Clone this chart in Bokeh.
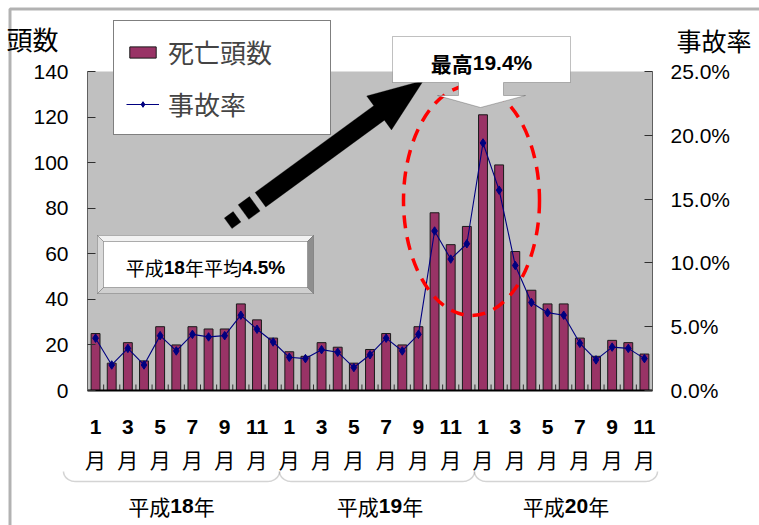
import math

from bokeh.core.properties import value
from bokeh.embed import file_html
from bokeh.models import (BoxAnnotation, ColumnDataSource, FixedTicker, Label, LabelSet,
                          Legend, LegendItem, LinearAxis, PolyAnnotation,
                          PrintfTickFormatter, Range1d)
from bokeh.plotting import figure
from bokeh.resources import INLINE

# ---------------------------------------------------------------- data
deaths_h18 = [25, 12, 21, 13, 28, 20, 28, 27, 27, 38, 31, 23]
deaths_h19 = [17, 15, 21, 19, 12, 18, 25, 20, 28, 78, 64, 72]
deaths_h20 = [121, 99, 61, 44, 38, 38, 23, 15, 22, 21, 16]

rate_h18 = [4.1, 2.0, 3.3, 2.0, 4.3, 3.1, 4.4, 4.2, 4.3, 5.9, 4.8, 3.8]
rate_h19 = [2.6, 2.5, 3.2, 3.0, 1.8, 2.8, 4.1, 3.1, 4.4, 12.5, 10.3, 11.5]
rate_h20 = [19.4, 15.7, 9.8, 6.9, 6.1, 5.9, 3.7, 2.4, 3.4, 3.3, 2.5]

month_labels = ["1", "3", "5", "7", "9", "11"]
year_labels = [("平成", "18", "年"), ("平成", "19", "年"), ("平成", "20", "年")]
count_ticks = [0, 20, 40, 60, 80, 100, 120, 140]
rate_ticks = [0, 5, 10, 15, 20, 25]

deaths = deaths_h18 + deaths_h19 + deaths_h20
rate = rate_h18 + rate_h19 + rate_h20
n = len(deaths)
idx = list(range(n))
peak_rate = max(rate)
avg_text = "4.5%"

# ---------------------------------------------------------------- layout
W, H = 759, 525
FL, FR, FT, FB = 87, 652, 71, 390          # plot area edges on the canvas (px)
Y_MAX, RATE_MAX = count_ticks[-1], rate_ticks[-1]

CJK = "Noto Sans CJK JP"
NUM = "Liberation Sans"


def sx(px):
    """canvas x (px) -> category coordinate"""
    return (px - FL) / (FR - FL) * n - 0.5


def sy(py):
    """canvas y (px, downwards) -> count coordinate"""
    return (FB - py) / (FB - FT) * Y_MAX


# the frame covers the whole canvas; axes are pinned to the plot area edges
p = figure(width=W, height=H, output_backend="svg", toolbar_location=None,
           x_range=Range1d(sx(0), sx(W)), y_range=Range1d(sy(H), sy(0)),
           min_border=0, min_border_left=0, min_border_right=0,
           min_border_top=0, min_border_bottom=0)
p.extra_y_ranges = {"rate": Range1d(sy(H) * RATE_MAX / Y_MAX, sy(0) * RATE_MAX / Y_MAX)}
p.background_fill_color = "white"
p.border_fill_color = "white"
p.outline_line_color = None
p.xgrid.visible = False
p.ygrid.visible = False

# grey plot area
p.add_layout(BoxAnnotation(left=-0.5, right=n - 0.5, bottom=0, top=Y_MAX,
                           fill_color="#c0c0c0", fill_alpha=1, line_color=None,
                           level="underlay"))

# left axis: head count
ya = p.yaxis[0]
ya.fixed_location = -0.5
ya.bounds = (0, Y_MAX)
ya.ticker = FixedTicker(ticks=count_ticks)
ya.major_tick_in = 8
ya.major_tick_out = 0
ya.minor_tick_line_color = None
ya.axis_line_color = "#606060"
ya.major_tick_line_color = "#303030"
ya.major_label_standoff = 19
ya.major_label_text_font = NUM
ya.major_label_text_font_size = "21px"
ya.major_label_text_color = "black"

# right axis: accident rate
ra = LinearAxis(y_range_name="rate", ticker=FixedTicker(ticks=rate_ticks),
                formatter=PrintfTickFormatter(format="%.1f%%"),
                fixed_location=n - 0.5, bounds=(0, RATE_MAX))
ra.major_tick_in = 8
ra.major_tick_out = 0
ra.minor_tick_line_color = None
ra.axis_line_color = "#606060"
ra.major_tick_line_color = "#303030"
ra.major_label_standoff = 18
ra.major_label_text_font = NUM
ra.major_label_text_font_size = "21px"
ra.major_label_text_color = "black"
p.add_layout(ra, "right")

# bottom axis: odd months
odd = idx[::2]
xa = p.xaxis[0]
xa.fixed_location = 0
xa.bounds = (-0.5, n - 0.5)
xa.ticker = FixedTicker(ticks=odd)
xa.major_label_overrides = {i: month_labels[k % 6] for k, i in enumerate(odd)}
xa.major_tick_in = 0
xa.major_tick_out = 0
xa.minor_tick_line_color = None
xa.axis_line_color = "black"
xa.axis_line_width = 2
xa.major_label_standoff = 29
xa.major_label_text_font = NUM
xa.major_label_text_font_style = "bold"
xa.major_label_text_font_size = "21px"
xa.major_label_text_color = "black"

# "月" under every month number
p.add_layout(LabelSet(source=ColumnDataSource(dict(x=odd, y=[sy(458)] * len(odd),
                                                   t=["月"] * len(odd))),
                      x="x", y="y", text="t", text_align="center", text_baseline="middle",
                      text_font=value(CJK), text_font_size="21px", text_color="black"))

# small category separators on the bottom axis
bounds = [i + 0.5 for i in idx[:-1]]
p.segment(x0=bounds, y0=[0] * len(bounds), x1=bounds, y1=[6 * Y_MAX / (FB - FT)] * len(bounds),
          line_color="#303030", line_width=1)

# ---------------------------------------------------------------- series
bars = p.vbar(x=idx, top=deaths, width=0.55, fill_color="#993366",
              line_color="#1a1a1a", line_width=1)
line_r = p.line(idx, rate, y_range_name="rate", line_color="#000080", line_width=1.1)
pts = p.scatter(idx, rate, y_range_name="rate", marker="diamond", size=8.5,
                fill_color="#000080", line_color="#000080")

# red dashed ring around the peak months
p.ellipse(x=[sx(471)], y=[sy(200)], width=136 * n / (FR - FL),
          height=230 * Y_MAX / (FB - FT), fill_color=None,
          line_color="#ff0000", line_width=3.5, line_dash="13 9")


def poly(pts_px, **kw):
    p.add_layout(PolyAnnotation(xs=[sx(a) for a, _ in pts_px],
                                ys=[sy(b) for _, b in pts_px], **kw))


NUM_W = {"0": .556, "1": .556, "2": .556, "3": .556, "4": .556, "5": .556,
         "6": .556, "7": .556, "8": .556, "9": .556, ".": .278, "%": .889}


def mixed(parts, cx, cy, size, cjk_bold=False):
    """place a run of CJK / bold-number pieces centred at (cx, cy) px"""
    widths = [(sum(NUM_W[c] for c in t) if num else len(t)) * size for t, num in parts]
    x = cx - sum(widths) / 2
    for (t, num), w in zip(parts, widths):
        p.add_layout(Label(x=sx(x), y=sy(cy), text=t, text_align="left",
                           text_baseline="middle", text_color="black",
                           text_font=NUM if num else CJK,
                           text_font_style="bold" if (num or cjk_bold) else "normal",
                           text_font_size=f"{size}px"))
        x += w


# ---------------------------------------------------------------- bevelled average box
bx0, by0, bx1, by1, bv = 97, 235, 313, 293, 6
edge = dict(line_color="#202020", line_width=0.8, fill_alpha=1)
poly([(bx0, by0), (bx1, by0), (bx1 - bv, by0 + bv), (bx0 + bv, by0 + bv)], fill_color="#f2f2f2", **edge)
poly([(bx0, by0), (bx0 + bv, by0 + bv), (bx0 + bv, by1 - bv), (bx0, by1)], fill_color="#dadada", **edge)
poly([(bx1, by0), (bx1, by1), (bx1 - bv, by1 - bv), (bx1 - bv, by0 + bv)], fill_color="#8e8e8e", **edge)
poly([(bx0, by1), (bx1, by1), (bx1 - bv, by1 - bv), (bx0 + bv, by1 - bv)], fill_color="#cfcfcf", **edge)
poly([(bx0 + bv, by0 + bv), (bx1 - bv, by0 + bv), (bx1 - bv, by1 - bv), (bx0 + bv, by1 - bv)],
     fill_color="white", **edge)
mixed([("平成", False), ("18", True), ("年平均", False), (avg_text, True)], 205, 267, 19)

# ---------------------------------------------------------------- big black arrow
tip = (423, 80)
tail = (231.5, 220)
L = math.hypot(tip[0] - tail[0], tip[1] - tail[1])
ux, uy = (tip[0] - tail[0]) / L, (tip[1] - tail[1]) / L
nx, ny = -uy, ux


def at(d, w):
    return (tip[0] - d * ux + w * nx, tip[1] - d * uy + w * ny)


black = dict(fill_color="black", fill_alpha=1, line_color="black", line_width=1)
poly([at(202, 9), at(55, 9), at(55, 21), at(0, 0), at(55, -21), at(55, -9), at(202, -9)], **black)
poly([at(209, 9), at(223, 9), at(223, -9), at(209, -9)], **black)
poly([at(231, 6.5), at(242, 6.5), at(242, -6.5), at(231, -6.5)], **black)

# ---------------------------------------------------------------- peak callout
poly([(392, 36), (570, 36), (570, 82), (503, 82), (503, 95), (525, 95), (480, 107),
      (437, 95), (458, 95), (458, 82), (392, 82)],
     fill_color="white", fill_alpha=1, line_color="#303030", line_width=1)
mixed([("最高", False), (f"{peak_rate:.1f}%", True)], 481, 62, 21, cjk_bold=True)

# ---------------------------------------------------------------- titles
p.add_layout(Label(x=sx(6), y=sy(38), text="頭数", text_align="left", text_baseline="middle",
                   text_font=CJK, text_font_size="26px", text_color="black"))
p.add_layout(Label(x=sx(676), y=sy(39), text="事故率", text_align="left", text_baseline="middle",
                   text_font=CJK, text_font_size="25px", text_color="black"))

# ---------------------------------------------------------------- legend
legend = Legend(items=[LegendItem(label="死亡頭数", renderers=[bars]),
                       LegendItem(label="事故率", renderers=[line_r, pts])],
                location=(113, H - 135), orientation="vertical",
                border_line_color="black", border_line_width=1,
                background_fill_color="white", background_fill_alpha=1,
                label_text_font=CJK, label_text_font_size="26px",
                glyph_width=33, glyph_height=14, label_standoff=9,
                padding=12, spacing=15, label_width=150, margin=0)
p.add_layout(legend)

# ---------------------------------------------------------------- year braces
brace_ends = [63, 279, 474, 657]
for k in range(3):
    xa0, xa1 = brace_ends[k], brace_ends[k + 1]
    path = []
    for j in range(0, 10):
        t = math.pi / 2 * j / 9
        path.append((xa0 + 12 * (1 - math.cos(t)), 471 + 10 * math.sin(t)))
    for j in range(9, -1, -1):
        t = math.pi / 2 * j / 9
        path.append((xa1 - 12 * (1 - math.cos(t)), 471 + 10 * math.sin(t)))
    poly(path + path[::-1], fill_alpha=0, line_color="#707070", line_width=1.5)
    cx = (xa0 + xa1) / 2
    a, b, c = year_labels[k]
    mixed([(a, False), (b, True), (c, False)], cx + (3 if k == 1 else 0), 505, 21)

# ---------------------------------------------------------------- outer frame
poly([(9.5, 8.5), (900, 8.5), (900, 700), (9.5, 700)],
     fill_alpha=0, line_color="black", line_width=3)

open("out.html", "w").write(file_html(p, INLINE))
